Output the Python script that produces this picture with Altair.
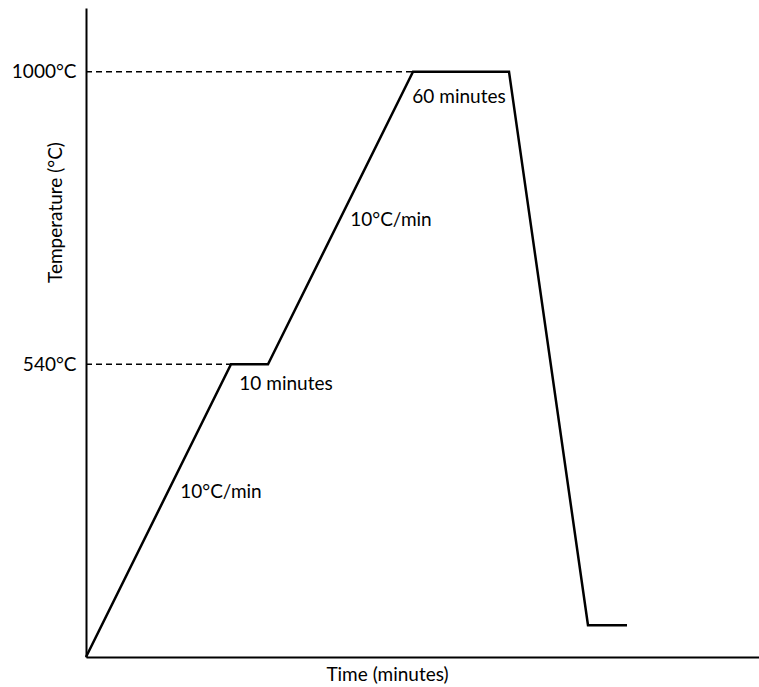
import altair as alt
import pandas as pd

# Heating profile: ramp, 540 °C hold, ramp, 1000 °C hold, cool-down
time_pts = [0, 145, 182, 327, 423, 502, 541]
temp_pts = [80, 540, 540, 1000, 1000, 130, 130]

# Dashed reference levels
ref_temps = [1000, 540]
ref_start = [0, 0]
ref_end = [327, 145]

# Segment annotations
label_text = ["60 minutes", "10°C/min", "10 minutes", "10°C/min"]
label_time = [373, 305, 200, 135]
label_temp = [960, 767, 509, 339]

FONT = "Lato"
FS = 19

profile = pd.DataFrame({"time": time_pts, "temp": temp_pts, "order": range(len(time_pts))})
refs = pd.DataFrame({"temp": ref_temps, "t0": ref_start, "t1": ref_end})
labels = pd.DataFrame({"text": label_text, "time": label_time, "temp": label_temp})

x_scale = alt.Scale(domain=[0, 673], nice=False, zero=False)
y_scale = alt.Scale(domain=[80, 1100], nice=False, zero=False)

x_axis = alt.Axis(
    title="Time (minutes)", labels=False, ticks=False, grid=False,
    domainColor="black", domainWidth=2,
    titleFont=FONT, titleFontSize=FS, titleFontWeight="normal", titleColor="black",
    titleX=301, titleY=23, titleAlign="center", titleBaseline="alphabetic",
)
y_axis = alt.Axis(
    title="Temperature (°C)", values=[540, 1000], labelExpr="datum.value + '°C'",
    ticks=False, grid=False, domainColor="black", domainWidth=2,
    labelFont=FONT, labelFontSize=FS, labelColor="black", labelPadding=10,
    titleFont=FONT, titleFontSize=FS, titleFontWeight="normal", titleColor="black",
    titleX=-31, titleY=204, titleAlign="center", titleBaseline="middle", titleAngle=-90,
)

line = alt.Chart(profile).mark_line(color="black", strokeWidth=2.5, strokeJoin="miter").encode(
    x=alt.X("time:Q", scale=x_scale, axis=x_axis),
    y=alt.Y("temp:Q", scale=y_scale, axis=y_axis),
    order="order:Q",
)

dashes = alt.Chart(refs).mark_rule(color="black", strokeWidth=1.5, strokeDash=[6, 4]).encode(
    x=alt.X("t0:Q", scale=x_scale),
    x2="t1:Q",
    y=alt.Y("temp:Q", scale=y_scale),
)

text = alt.Chart(labels).mark_text(
    font=FONT, fontSize=FS, color="black", align="center", baseline="middle"
).encode(
    x=alt.X("time:Q", scale=x_scale),
    y=alt.Y("temp:Q", scale=y_scale),
    text="text:N",
)

chart = (
    alt.layer(dashes, line, text)
    .properties(
        width=673, height=649,
        padding={"left": 86, "top": 8, "right": 0, "bottom": 30},
        autosize=alt.AutoSizeParams(type="none"),
        background="white",
    )
    .configure_view(stroke=None)
)

chart.save("out.html", embed_options={"renderer": "svg", "actions": False})
